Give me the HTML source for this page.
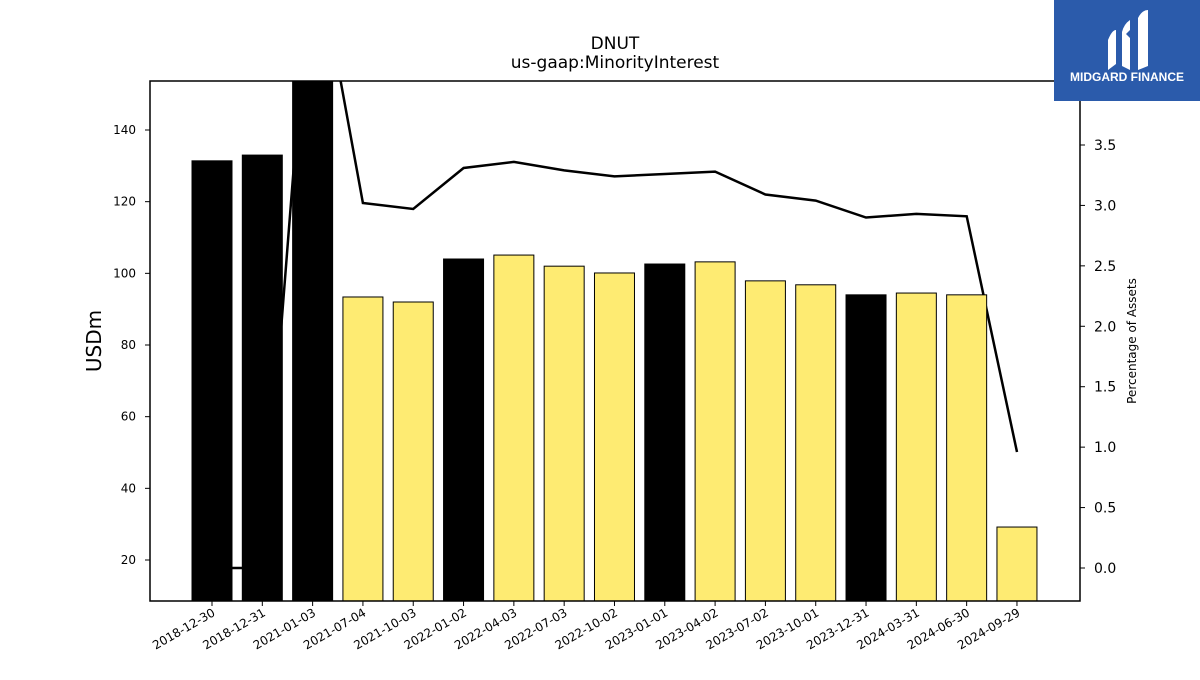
<!DOCTYPE html>
<html><head><meta charset="utf-8"><style>
body{margin:0;background:#fff;font-family:"Liberation Sans","DejaVu Sans",sans-serif;}
svg text{font-family:"DejaVu Sans","Liberation Sans",sans-serif;}
</style></head><body>
<svg id="chart" width="1200" height="675" viewBox="0 0 1200 675" xmlns="http://www.w3.org/2000/svg">
<defs><clipPath id="pc"><rect x="150" y="81" width="930" height="520"/></clipPath></defs>
<rect width="1200" height="675" fill="#fff"/>
<text x="615" y="49" text-anchor="middle" font-size="17">DNUT</text>
<text x="615" y="68" text-anchor="middle" font-size="17">us-gaap:MinorityInterest</text>
<g id="lineG" clip-path="url(#pc)"></g>
<g id="barG" clip-path="url(#pc)"></g>
<g id="axes"></g>
<rect x="150" y="81" width="930" height="520" fill="none" stroke="#000" stroke-width="1.5"/>
<text transform="translate(101,341) rotate(-90)" text-anchor="middle" font-size="20">USDm</text>
<text transform="translate(1136,341) rotate(-90)" text-anchor="middle" font-size="12">Percentage of Assets</text>
<g>
<rect x="1054" y="0" width="146" height="101" fill="#2b5bab"/>
<path d="M1108 40 q4 -10 8 -10 v34 l-8 6z M1122 32 q2 -8 8 -12 v10 l-4 4 4 4 v32 l-8 -4 v-14 z M1138 18 q4 -8 10 -8 v56 l-10 4z" fill="#fff"/>
<text x="1127" y="81" text-anchor="middle" font-size="12" font-weight="bold" fill="#fff" style="font-family:'Liberation Sans',sans-serif">MIDGARD FINANCE</text>
</g>
</svg>
<script>
const categories=["2018-12-30","2018-12-31","2021-01-03","2021-07-04","2021-10-03","2022-01-02","2022-04-03","2022-07-03","2022-10-02","2023-01-01","2023-04-02","2023-07-02","2023-10-01","2023-12-31","2024-03-31","2024-06-30","2024-09-29"];
const barValues=[131.4,133,160,93.4,92,104,105.1,102,100.1,102.6,103.2,97.9,96.8,94,94.5,94,29.2];
const barIsAnnual=[1,1,1,0,0,1,0,0,0,1,0,0,0,1,0,0,0];
const pctValues=[0.0,0.0,5.3,3.02,2.97,3.31,3.36,3.29,3.24,3.26,3.28,3.09,3.04,2.90,2.93,2.91,0.96];
const leftTicks=[20,40,60,80,100,120,140];
const rightTicks=[0.0,0.5,1.0,1.5,2.0,2.5,3.0,3.5];
const NS="http://www.w3.org/2000/svg";
function xPos(i){return 212+50.31*i;}
function yL(v){return 560-(v-20)*3.5833;}
function yR(v){return 568-v*120.86;}
function mk(tag,attrs,parent){const e=document.createElementNS(NS,tag);for(const k in attrs)e.setAttribute(k,attrs[k]);parent.appendChild(e);return e;}
const lineG=document.getElementById('lineG'),barG=document.getElementById('barG'),axes=document.getElementById('axes');
const pts=pctValues.map((v,i)=>xPos(i).toFixed(1)+','+yR(v).toFixed(1)).join(' ');
const pl=mk('polyline',{points:pts,fill:'none',stroke:'#000','stroke-width':2.5},lineG);


barValues.forEach((v,i)=>{
 const y=yL(v);
 const r=mk('rect',{x:xPos(i)-20,y:y,width:40,height:601-y,fill:barIsAnnual[i]?'#000':'#feeb72',stroke:'#000','stroke-width':1},barG);
 
 
 mk('line',{x1:xPos(i),x2:xPos(i),y1:601,y2:606,stroke:'#000'},axes);
 const t=mk('text',{transform:`translate(${xPos(i)+4},${615}) rotate(-30)`,'text-anchor':'end','font-size':12},axes);
 t.textContent=categories[i];
 
 
});
leftTicks.forEach(v=>{
 mk('line',{x1:145,x2:150,y1:yL(v),y2:yL(v),stroke:'#000'},axes);
 const t=mk('text',{x:136,y:yL(v)+4,'text-anchor':'end','font-size':12},axes);
 t.textContent=v;
 
 
});
rightTicks.forEach(v=>{
 mk('line',{x1:1080,x2:1085,y1:yR(v),y2:yR(v),stroke:'#000'},axes);
 const t=mk('text',{x:1094,y:yR(v)+5,'font-size':14},axes);
 t.textContent=v.toFixed(1);
 
 
});
</script>
</body></html>
